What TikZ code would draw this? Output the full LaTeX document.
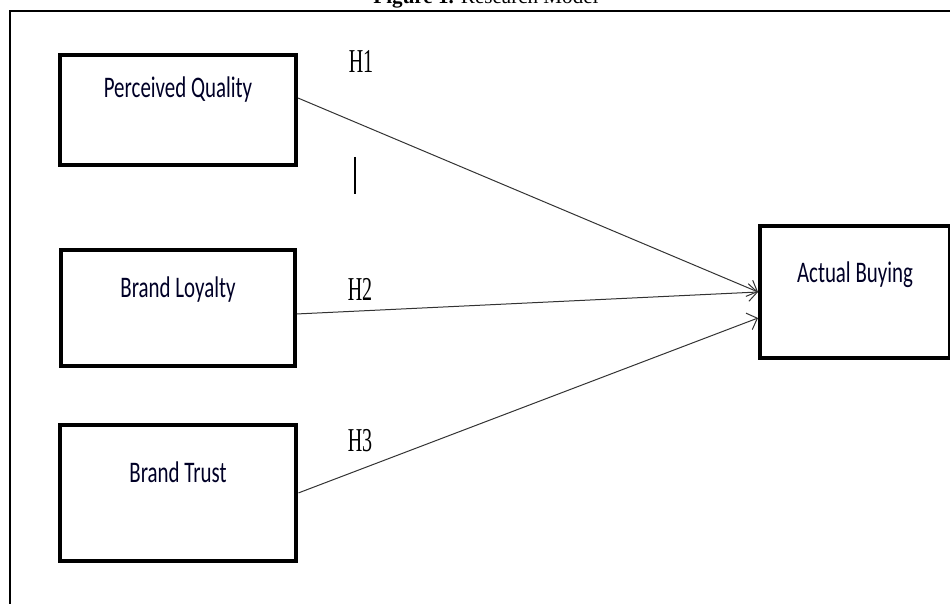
\documentclass[tikz,border=0pt]{standalone}
\usepackage{fontspec}
\setmainfont{Liberation Serif}
\newfontfamily\boxfont[FakeStretch=0.7]{Carlito}
\newfontfamily\hypfont[FakeStretch=0.6]{Liberation Serif}
\usetikzlibrary{arrows.meta,positioning}
\tikzset{
  frame/.style={draw, line width=0.04cm},
  construct/.style={draw, line width=0.08cm, inner sep=0pt, font=\boxfont\fontsize{17pt}{20pt}\selectfont, text=black!85!blue},
  hyp/.style={inner sep=0pt, font=\hypfont\fontsize{19pt}{22pt}\selectfont},
  link/.style={-{Straight Barb[length=5pt,width=10pt]}, line width=0.02cm, draw=black!80},
}
\begin{document}
\begin{tikzpicture}[x=0.02cm, y=-0.02cm, node distance=1cm]
  \useasboundingbox (0,0) rectangle (950,604);
  \clip (0,0) rectangle (950,604);
  \node[anchor=base] (caption) at (486,4) {\fontsize{12pt}{14pt}\selectfont\textbf{Figure 1.} Research Model};
  \draw[frame] (10,11) rectangle (980,640);

  \node[construct, minimum width=4.72cm, text height=0.86cm, text depth=1.34cm] (quality) at (178,110) {Perceived Quality};
  \node[construct, below=1.62cm of quality, minimum width=4.68cm, text height=0.96cm, text depth=1.36cm] (loyalty) {Brand Loyalty};
  \node[construct, below=1.1cm of loyalty, minimum width=4.74cm, text height=1.16cm, text depth=1.56cm] (trust) {Brand Trust};
  \node[construct, minimum width=3.8cm, text height=1.12cm, text depth=1.52cm] (buying) at (855,292) {Actual Buying};

  \node[hyp] (h1) at (361,61) {H1};
  \node[hyp] (h2) at (360,289) {H2};
  \node[hyp] (h3) at (360,441) {H3};

  \draw[link] ([yshift=0.24cm]quality.east) -- (buying.west);
  \draw[link] ([yshift=-0.12cm]loyalty.east) -- (buying.west);
  \draw[link] (trust.east) -- ([yshift=-0.52cm]buying.west);
  \draw[line width=0.03cm] (355,157) -- (355,194);
\end{tikzpicture}
\end{document}
